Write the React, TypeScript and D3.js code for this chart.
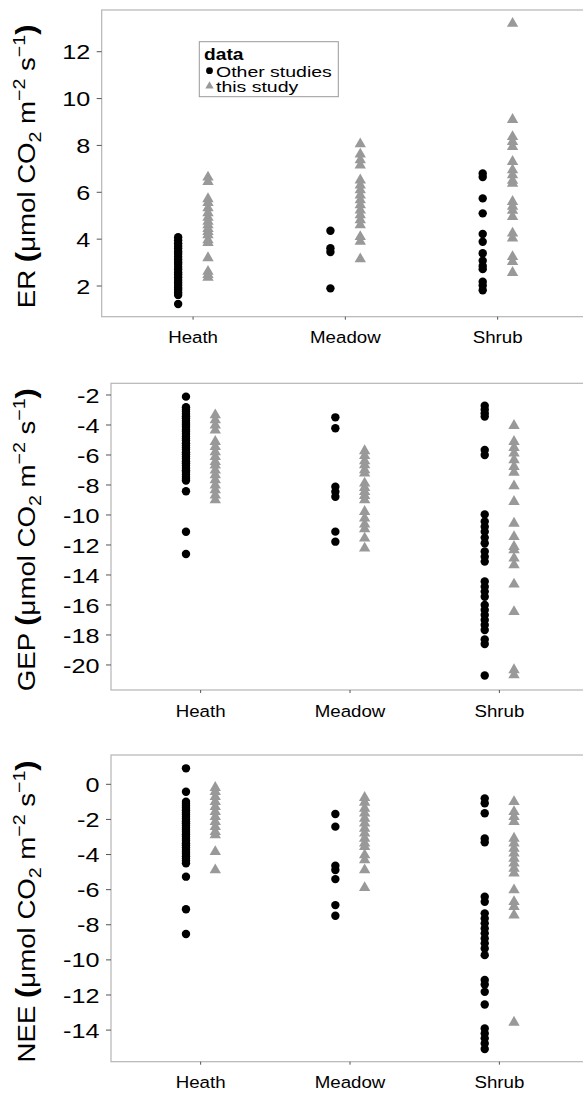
import React from 'react';
import * as d3 from 'd3';

// Vegetation types on the x axis and the two data sources
const categories = ['Heath', 'Meadow', 'Shrub'];
const sourceLabels = ['Other studies', 'this study'];

// Ecosystem respiration (ER)
const erHeathOther = [4.08, 3.95, 3.82, 3.71, 3.6, 3.47, 3.38, 3.25, 3.13, 3.02, 2.94, 2.81, 2.7, 2.58, 2.49, 2.37, 2.26, 2.15, 2.04, 1.93, 1.84, 1.72, 1.62, 1.23];
const erHeathThis = [6.64, 6.45, 5.72, 5.55, 5.33, 5.12, 4.92, 4.75, 4.6, 4.45, 4.32, 4.18, 3.96, 3.85, 3.2, 2.62, 2.48, 2.36];
const erMeadowOther = [4.36, 3.61, 3.45, 1.9];
const erMeadowThis = [8.06, 7.62, 7.38, 7.15, 6.52, 6.3, 6.1, 5.88, 5.67, 5.46, 5.24, 5.03, 4.82, 4.6, 4.1, 3.9, 3.15];
const erShrubOther = [6.8, 6.65, 5.74, 5.1, 4.22, 3.89, 3.4, 3.08, 2.85, 2.72, 2.18, 2.02, 1.82];
const erShrubThis = [13.2, 9.1, 8.37, 8.16, 7.95, 7.31, 6.95, 6.74, 6.5, 6.38, 5.6, 5.4, 5.22, 4.96, 4.25, 4.04, 3.25, 3.04, 2.57];

// Gross ecosystem production (GEP)
const gepHeathOther = [-2.11, -2.82, -2.96, -3.1, -3.27, -3.41, -3.55, -3.72, -3.86, -4.0, -4.13, -4.31, -4.44, -4.6, -4.77, -4.9, -5.04, -5.21, -5.36, -5.5, -5.63, -5.81, -5.95, -6.1, -6.24, -6.42, -6.55, -6.7, -6.86, -7.01, -7.14, -7.3, -7.46, -7.58, -7.7, -8.42, -11.12, -12.6];
const gepHeathThis = [-3.33, -3.67, -4.02, -4.35, -5.11, -5.45, -5.8, -6.12, -6.45, -6.68, -7.02, -7.33, -7.66, -8.01, -8.33, -8.68, -9.0];
const gepMeadowOther = [-3.49, -4.22, -8.11, -8.45, -8.78, -11.11, -11.78];
const gepMeadowThis = [-5.73, -6.05, -6.4, -6.67, -7.0, -7.22, -7.89, -8.18, -8.45, -8.71, -9.0, -9.78, -10.22, -10.62, -10.93, -11.55, -12.22];
const gepShrubOther = [-2.71, -2.96, -3.22, -3.44, -5.67, -6.0, -9.96, -10.44, -10.78, -11.11, -11.51, -11.89, -12.44, -12.78, -13.11, -14.44, -14.78, -15.11, -15.45, -16.0, -16.33, -16.67, -17.0, -17.33, -17.67, -18.3, -18.6, -20.7];
const gepShrubThis = [-4.04, -5.11, -5.51, -5.89, -6.33, -6.78, -7.16, -8.07, -9.11, -10.56, -11.45, -12.11, -12.33, -12.89, -13.33, -14.62, -16.45, -20.33, -20.67];

// Net ecosystem exchange (NEE)
const neeHeathOther = [0.91, -0.42, -0.99, -1.1, -1.22, -1.35, -1.47, -1.6, -1.72, -1.85, -1.97, -2.1, -2.22, -2.35, -2.47, -2.6, -2.72, -2.85, -2.97, -3.1, -3.22, -3.35, -3.47, -3.6, -3.72, -3.85, -3.97, -4.1, -4.22, -4.35, -4.5, -5.26, -7.12, -8.53];
const neeHeathThis = [-0.19, -0.42, -0.71, -0.99, -1.28, -1.56, -1.85, -2.13, -2.42, -2.7, -2.89, -3.84, -4.88];
const neeMeadowOther = [-1.69, -2.41, -4.64, -4.88, -5.4, -6.88, -7.49];
const neeMeadowThis = [-0.76, -1.03, -1.37, -1.65, -1.94, -2.22, -2.51, -2.79, -3.08, -3.36, -3.56, -4.03, -4.31, -4.88, -5.89];
const neeShrubOther = [-0.8, -1.08, -1.65, -3.08, -3.3, -6.4, -6.69, -7.35, -7.64, -7.92, -8.21, -8.49, -8.78, -9.06, -9.35, -9.73, -11.15, -11.4, -11.82, -12.54, -13.91, -14.19, -14.47, -14.76, -15.08];
const neeShrubThis = [-0.99, -1.56, -1.85, -2.13, -3.08, -3.36, -3.65, -3.93, -4.22, -4.5, -4.79, -5.07, -6.02, -6.69, -6.97, -7.45, -13.56];

// Axis ticks
const erTicks = [2, 4, 6, 8, 10, 12];
const gepTicks = [-20, -18, -16, -14, -12, -10, -8, -6, -4, -2];
const neeTicks = [-14, -12, -10, -8, -6, -4, -2, 0];

const FONT = "'Liberation Sans', Arial, Helvetica, sans-serif";
const W = 583;
const H = 1095;
const PLOT_RIGHT = 589;
const OTHER_COLOR = '#000000';
const THIS_COLOR = '#999999';

type Group = { other: number[]; own: number[] };

const panels = [
  {
    name: 'ER',
    groups: [
      { other: erHeathOther, own: erHeathThis },
      { other: erMeadowOther, own: erMeadowThis },
      { other: erShrubOther, own: erShrubThis },
    ] as Group[],
    ticks: erTicks,
    domain: [0.69, 13.78],
    top: 10,
    bottom: 316.7,
    left: 101.7,
    legend: true,
  },
  {
    name: 'GEP',
    groups: [
      { other: gepHeathOther, own: gepHeathThis },
      { other: gepMeadowOther, own: gepMeadowThis },
      { other: gepShrubOther, own: gepShrubThis },
    ] as Group[],
    ticks: gepTicks,
    domain: [-21.67, -1.22],
    top: 383.3,
    bottom: 690,
    left: 111,
    legend: false,
  },
  {
    name: 'NEE',
    groups: [
      { other: neeHeathOther, own: neeHeathThis },
      { other: neeMeadowOther, own: neeMeadowThis },
      { other: neeShrubOther, own: neeShrubThis },
    ] as Group[],
    ticks: neeTicks,
    domain: [-15.8, 1.67],
    top: 755,
    bottom: 1061.7,
    left: 111,
    legend: false,
  },
];

const trianglePath = d3.symbol(d3.symbolTriangle, 56)() as string;
const legendTriangle = d3.symbol(d3.symbolTriangle, 30)() as string;

function AxisTitle({ name, x, cy }: { name: string; x: number; cy: number }) {
  return (
    <text
      transform={`translate(${x},${cy}) rotate(-90) scale(1.15,1)`}
      textAnchor="middle"
      fontFamily={FONT}
      fontSize={24}
      fill="#000"
    >
      {name + ' '}
      <tspan fontWeight="bold" fontSize={27}>(</tspan>
      <tspan>μmol CO</tspan>
      <tspan fontSize={17} dy={6}>2</tspan>
      <tspan dy={-6}> m</tspan>
      <tspan fontSize={17} dy={-10}>−2</tspan>
      <tspan dy={10}> s</tspan>
      <tspan fontSize={17} dy={-10}>−1</tspan>
      <tspan dy={10} fontWeight="bold" fontSize={27}>)</tspan>
    </text>
  );
}

function Panel({ p }: { p: (typeof panels)[number] }) {
  const x = d3.scalePoint<string>().domain(categories).range([p.left, PLOT_RIGHT]).padding(0.6);
  const y = d3.scaleLinear().domain(p.domain).range([p.bottom, p.top]);
  const dodge = x.step() * 0.098;
  const labelRight = p.left - 11.5;
  return (
    <g>
      {/* panel frame */}
      <rect
        x={p.left}
        y={p.top}
        width={PLOT_RIGHT - p.left}
        height={p.bottom - p.top}
        fill="none"
        stroke="#b5b5b5"
        strokeWidth={1.2}
      />
      {/* y axis */}
      {p.ticks.map((t) => (
        <g key={t}>
          <line x1={p.left - 5} x2={p.left} y1={y(t)} y2={y(t)} stroke="#555" strokeWidth={1} />
          <text
            transform={`translate(${labelRight},${y(t)}) scale(1.2,1)`}
            textAnchor="end"
            dy="0.36em"
            fontFamily={FONT}
            fontSize={21}
            fill="#000"
          >
            {t}
          </text>
        </g>
      ))}
      {/* x axis */}
      {categories.map((c) => (
        <g key={c}>
          <line x1={x(c)} x2={x(c)} y1={p.bottom} y2={p.bottom + 3} stroke="#555" strokeWidth={1} />
          <text
            transform={`translate(${x(c)},${p.bottom + 26.5}) scale(1.1,1)`}
            textAnchor="middle"
            fontFamily={FONT}
            fontSize={17}
            fill="#000"
          >
            {c}
          </text>
        </g>
      ))}
      {/* points */}
      {categories.map((c, i) => {
        const g = p.groups[i];
        const cx = x(c) as number;
        return (
          <g key={c}>
            {g.other.map((v, j) => (
              <circle key={'o' + j} cx={cx - dodge} cy={y(v)} r={4.2} fill={OTHER_COLOR} />
            ))}
            {g.own.map((v, j) => (
              <path
                key={'t' + j}
                d={trianglePath}
                transform={`translate(${cx + dodge},${y(v)})`}
                fill={THIS_COLOR}
              />
            ))}
          </g>
        );
      })}
      <AxisTitle name={p.name} x={35} cy={(p.top + p.bottom) / 2 + 3} />
      {p.legend && (
        <g>
          <rect x={199.3} y={41.7} width={139} height={55} fill="#fff" stroke="#999" strokeWidth={1} />
          <text
            transform="translate(204,60) scale(1.2,1)"
            fontFamily={FONT}
            fontWeight="bold"
            fontSize={16}
            fill="#000"
          >
            data
          </text>
          <circle cx={209.5} cy={70.7} r={3.4} fill={OTHER_COLOR} />
          <path d={legendTriangle} transform="translate(209.5,86)" fill={THIS_COLOR} />
          <text transform="translate(216,77.3) scale(1.3,1)" fontFamily={FONT} fontSize={15} fill="#000">
            {sourceLabels[0]}
          </text>
          <text transform="translate(216,91.7) scale(1.3,1)" fontFamily={FONT} fontSize={15} fill="#000">
            {sourceLabels[1]}
          </text>
        </g>
      )}
    </g>
  );
}

export default function App() {
  return (
    <svg
      width={W}
      height={H}
      viewBox={`0 0 ${W} ${H}`}
      style={{ position: 'absolute', left: 0, top: 0, background: '#fff' }}
    >
      <rect x={0} y={0} width={W} height={H} fill="#fff" />
      {panels.map((p) => (
        <Panel key={p.name} p={p} />
      ))}
    </svg>
  );
}
